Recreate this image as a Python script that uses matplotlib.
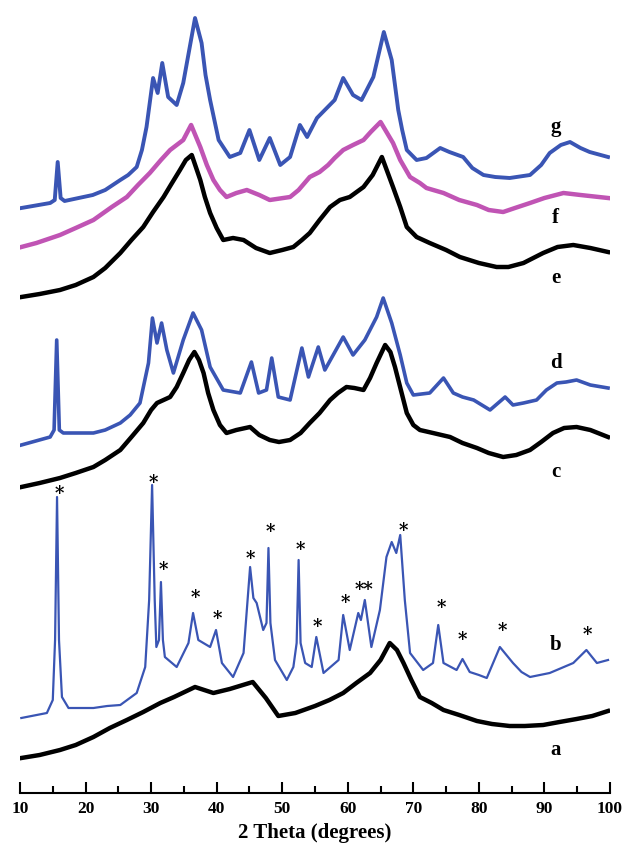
import numpy as np
import matplotlib
matplotlib.use("Agg")
import matplotlib.pyplot as plt
from matplotlib.ticker import MultipleLocator

# XRD patterns, stacked (intensity in arbitrary units incl. vertical offset)
a_x = [10.2, 13.0, 16.1, 18.5, 21.2, 23.7, 26.3, 28.8, 31.4, 33.5, 36.7, 39.5, 42.0,
       45.5, 47.5, 49.4, 52.0, 55.0, 57.2, 59.3, 61.3, 63.4, 65.0, 66.4, 67.5, 68.5,
       69.7, 71.0, 72.8, 74.6, 77.0, 79.7, 82.0, 84.7, 87.0, 89.8, 92.3, 94.9, 97.3, 99.7]
a_y = [35, 38, 43, 48, 56, 65, 73, 81, 90, 96, 106, 100, 104,
       111, 95, 77, 80, 87, 93, 100, 110, 120, 133, 150, 143, 130,
       113, 96, 90, 83, 78, 72, 69, 67, 67, 68, 71, 74, 77, 82]

b_x = [10.2, 14.1, 15.0, 15.35, 15.65, 15.95, 16.4, 17.4, 21.2, 23.3, 25.3, 27.8, 29.1,
       29.7, 30.15, 30.55, 30.8, 31.2, 31.5, 31.8, 32.1, 33.9, 35.7, 36.4, 37.2, 39.0,
       39.9, 40.8, 42.5, 44.1, 45.1, 45.6, 46.1, 47.1, 47.6, 47.9, 48.2, 48.9, 50.7,
       51.7, 52.2, 52.5, 52.8, 53.5, 54.5, 55.2, 56.3, 58.6, 59.3, 60.3, 61.6, 62.0,
       62.6, 63.6, 64.9, 65.9, 66.7, 67.4, 68.0, 68.7, 69.5, 71.5, 73.0, 73.8, 74.6,
       76.6, 77.5, 78.6, 80.0, 81.2, 83.2, 85.2, 86.5, 87.8, 90.8, 94.4, 96.4, 98.0, 99.7]
b_y = [75, 80, 93, 153, 296, 153, 96, 85, 85, 87, 88, 100, 126,
       193, 308, 193, 146, 153, 211, 153, 136, 126, 150, 180, 153, 146,
       163, 130, 116, 140, 226, 195, 190, 163, 170, 245, 170, 133, 113,
       126, 150, 233, 150, 130, 126, 156, 120, 133, 178, 143, 180, 173,
       193, 146, 183, 236, 251, 240, 258, 193, 140, 123, 130, 168, 130,
       123, 134, 121, 118, 115, 146, 130, 121, 116, 120, 130, 143, 130, 133]

c_x = [10.2, 13.0, 16.1, 18.5, 21.2, 23.0, 25.3, 27.0, 28.8, 30.0, 30.9, 31.9, 32.9,
       33.9, 34.9, 35.8, 36.6, 37.3, 38.0, 38.7, 39.5, 40.5, 41.5, 43.0, 45.1, 46.5,
       48.1, 49.5, 51.2, 52.8, 54.2, 55.7, 57.3, 58.5, 59.8, 61.0, 62.4, 63.4, 64.4,
       65.7, 66.5, 67.2, 68.1, 69.0, 70.0, 71.0, 73.0, 75.6, 77.5, 79.7, 81.5, 83.7,
       85.7, 87.8, 89.5, 91.3, 93.0, 94.9, 97.0, 99.7]
c_y = [306, 310, 315, 320, 326, 333, 343, 356, 370, 383, 390, 393, 396,
       406, 420, 433, 441, 433, 420, 400, 383, 368, 360, 363, 366, 358,
       353, 351, 353, 360, 370, 380, 393, 400, 406, 405, 403, 415, 430,
       448, 441, 426, 403, 380, 368, 363, 360, 356, 350, 345, 340, 336,
       338, 343, 351, 360, 365, 366, 363, 356]

d_x = [10.2, 14.6, 15.2, 15.6, 16.0, 16.6, 21.2, 23.0, 25.3, 26.8, 28.3, 29.6, 30.2,
       30.9, 31.6, 32.4, 33.4, 34.9, 36.4, 37.7, 39.0, 41.0, 43.6, 45.3, 46.4, 47.6,
       48.4, 49.4, 51.2, 53.0, 54.0, 55.5, 56.5, 59.3, 60.8, 62.6, 64.4, 65.4, 66.7,
       68.0, 69.0, 70.0, 72.5, 74.6, 76.1, 77.5, 79.2, 81.7, 84.0, 85.2, 86.8, 88.8,
       90.3, 91.9, 93.3, 94.9, 97.0, 99.7]
d_y = [348, 356, 363, 453, 363, 360, 360, 363, 370, 378, 390, 430, 475,
       450, 470, 443, 420, 453, 480, 463, 426, 403, 400, 431, 400, 403,
       435, 396, 393, 445, 416, 446, 423, 456, 438, 453, 476, 495, 470,
       438, 410, 398, 400, 415, 400, 396, 393, 383, 396, 388, 390, 393,
       403, 410, 411, 413, 408, 405]

e_x = [10.2, 13.0, 16.1, 18.5, 21.2, 23.0, 25.3, 27.0, 28.8, 30.3, 31.9, 33.0, 34.4,
       35.3, 36.2, 37.5, 38.2, 39.0, 40.0, 41.0, 42.5, 44.1, 46.0, 48.1, 50.0, 51.7,
       53.0, 54.2, 55.7, 57.3, 58.8, 60.3, 62.4, 63.8, 65.2, 66.9, 68.0, 69.0, 70.5,
       72.5, 75.0, 77.1, 80.0, 82.7, 84.5, 86.8, 88.3, 89.8, 92.0, 94.4, 97.0, 99.7]
e_y = [496, 499, 503, 508, 516, 525, 540, 553, 566, 581, 596, 608, 623,
       633, 638, 613, 596, 580, 565, 553, 555, 553, 545, 540, 543, 546,
       553, 560, 573, 586, 593, 596, 606, 618, 636, 606, 586, 566, 556,
       550, 543, 536, 530, 526, 526, 530, 535, 540, 546, 548, 545, 541]

f_x = [10.2, 12.5, 16.1, 18.5, 21.2, 24.0, 26.3, 28.0, 29.8, 31.5, 32.9, 34.9, 36.1,
       37.5, 38.5, 39.5, 40.5, 41.5, 43.0, 44.6, 46.5, 48.1, 51.2, 52.5, 54.2, 55.7,
       57.0, 58.0, 59.3, 60.8, 62.4, 63.5, 65.0, 66.9, 68.0, 69.5, 71.0, 72.0, 74.6,
       77.0, 79.7, 81.5, 83.7, 85.5, 87.8, 90.0, 92.9, 95.5, 99.7]
f_y = [546, 550, 558, 565, 573, 586, 596, 608, 620, 633, 643, 653, 668,
       646, 628, 613, 603, 596, 600, 603, 598, 593, 596, 603, 616, 621,
       628, 635, 643, 648, 653, 661, 671, 650, 633, 616, 610, 605, 600,
       593, 588, 583, 581, 585, 590, 595, 600, 598, 595]

g_x = [10.2, 14.6, 15.3, 15.75, 16.2, 16.8, 21.1, 23.0, 25.3, 26.5, 27.8, 28.6, 29.3,
       30.3, 31.0, 31.7, 32.6, 33.9, 34.9, 36.7, 37.7, 38.3, 39.0, 40.3, 42.0, 43.6,
       45.0, 46.5, 48.1, 49.7, 51.2, 52.7, 53.8, 55.3, 56.8, 58.0, 59.3, 60.8, 62.1,
       63.9, 65.5, 66.7, 67.7, 68.3, 69.0, 70.5, 72.0, 74.1, 75.5, 77.6, 79.0, 80.7,
       82.5, 84.7, 87.8, 89.5, 90.8, 92.5, 93.9, 95.5, 96.9, 99.7]
g_y = [585, 590, 593, 631, 595, 592, 598, 603, 613, 618, 626, 643, 666,
       715, 700, 730, 696, 688, 710, 775, 750, 718, 693, 653, 636, 640,
       663, 633, 655, 628, 636, 668, 656, 675, 685, 693, 715, 698, 693,
       716, 761, 733, 683, 663, 643, 633, 635, 645, 641, 636, 625, 618,
       616, 615, 618, 628, 640, 648, 651, 645, 641, 636]

# reflections marked with * on pattern b
star_x = [16.0, 30.3, 31.8, 36.7, 40.1, 45.2, 48.2, 52.8, 55.3, 59.6, 62.4,
          68.4, 74.3, 77.5, 83.5, 96.6]
star_txt = ['*'] * 10 + ['**'] + ['*'] * 5
star_y = [299, 310, 223, 195, 174, 234, 261, 243, 166, 190, 203,
          262, 185, 153, 162, 158]

labels = ['a', 'b', 'c', 'd', 'e', 'f', 'g']
label_y = [43, 148, 321, 430, 515, 575, 666]

blue = '#3a55b4'
pink = '#c054b4'
series = [
    (a_x, a_y, 'black', 3.2),
    (b_x, b_y, blue, 1.6),
    (c_x, c_y, 'black', 3.2),
    (d_x, d_y, blue, 2.6),
    (e_x, e_y, 'black', 3.2),
    (f_x, f_y, pink, 3.2),
    (g_x, g_y, blue, 2.8),
]

fig = plt.figure(figsize=(6.24, 8.55), dpi=100)
ax = fig.add_axes([20 / 624, 62 / 855, 590 / 624, 793 / 855])

for xs, ys, col, lw in series:
    ax.plot(xs, ys, color=col, lw=lw, solid_joinstyle='round')

for sx, sy, st in zip(star_x, star_y, star_txt):
    ax.text(sx, sy, st, ha='center', va='center', fontsize=13,
            family='DejaVu Serif', fontweight='bold', color='black')

for lab, ly in zip(labels, label_y):
    ax.text(91.7, ly, lab, ha='center', va='center', fontsize=15,
            family='Liberation Serif', fontweight='bold')

ax.set_xlim(10, 100)
ax.set_ylim(0, 793)
ax.xaxis.set_major_locator(MultipleLocator(10))
ax.xaxis.set_minor_locator(MultipleLocator(5))
ax.tick_params(axis='x', which='major', direction='in', length=8, width=1.5, pad=6)
ax.tick_params(axis='x', which='minor', direction='in', length=5, width=1.5)
ax.set_yticks([])
for s in ['top', 'left', 'right']:
    ax.spines[s].set_visible(False)
ax.spines['bottom'].set_linewidth(1.5)

for t in ax.get_xticklabels():
    t.set_family('Liberation Serif')
    t.set_fontweight('bold')
    t.set_fontsize(12.5)

ax.set_xlabel('2 Theta (degrees)', family='Liberation Serif', fontweight='bold',
              fontsize=15, labelpad=4)

fig.savefig('out.png', dpi=100)
